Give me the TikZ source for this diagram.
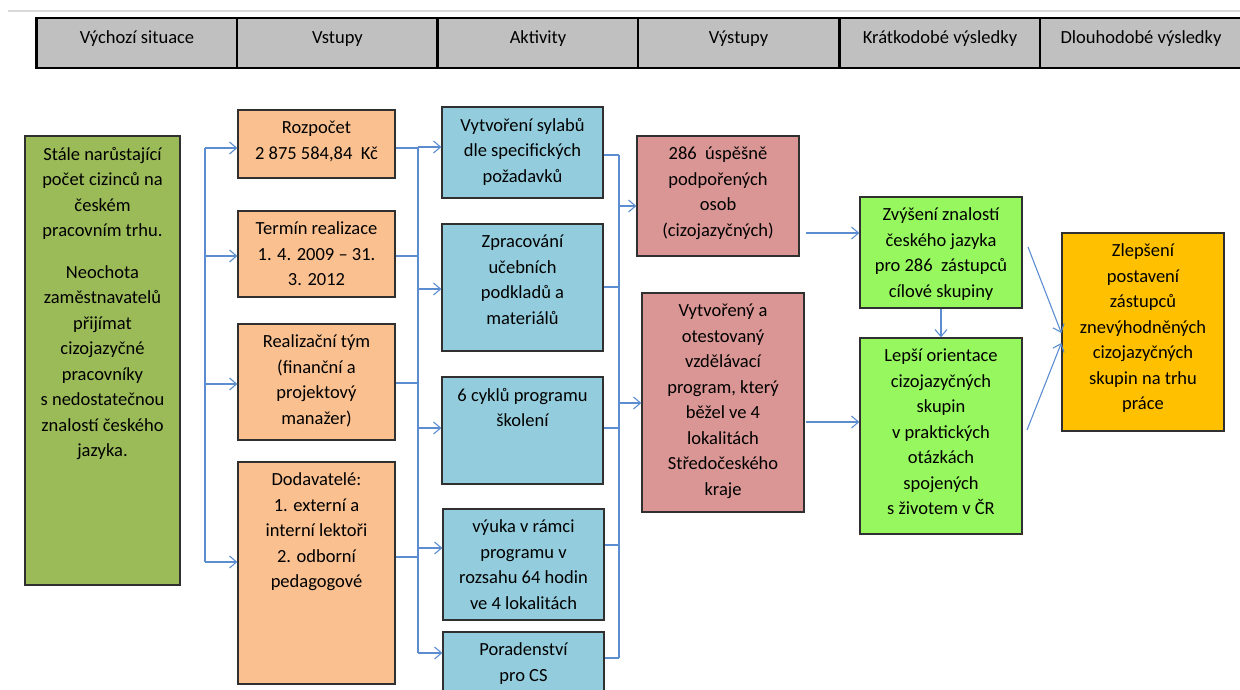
\documentclass[tikz,border=0pt]{standalone}
\usepackage{fontspec}
\setmainfont{Carlito}
\usetikzlibrary{arrows.meta}
\definecolor{hdrgray}{HTML}{C0C0C0}
\definecolor{sitgreen}{HTML}{9BBB59}
\definecolor{inorange}{HTML}{FAC090}
\definecolor{actblue}{HTML}{93CDDD}
\definecolor{outred}{HTML}{D99694}
\definecolor{resgreen}{HTML}{96F85E}
\definecolor{resyellow}{HTML}{FFC000}
\definecolor{conblue}{HTML}{5B8DD0}
\definecolor{boxline}{HTML}{303030}
\newcommand\boxfont{\fontsize{18.5}{25.5}\selectfont}
\begin{document}
\begin{tikzpicture}[x=1pt,y=-1pt,
  hcell/.style={draw=black,line width=2.6pt,fill=hdrgray,minimum width=201,minimum height=50,inner sep=0pt},
  box/.style={draw=boxline,line width=1.3pt,inner sep=0pt},
  txt/.style={anchor=north,align=center,inner sep=0pt,font=\boxfont,yshift=-11.5pt,
    execute at begin node={\rule{0pt}{15pt}}},
  con/.style={draw=conblue,line width=1.1pt},
  arr/.style={con,-{Straight Barb[length=7pt,width=12pt]}}]
\useasboundingbox (0,0) rectangle (1240,690);
\clip (0,0) rectangle (1240,690);
\draw [line width=2pt,color=black!15] (8,11)-- (1240,11);
% header row
\node[hcell] (h1) at (137,43) {};
\node[hcell] (h2) at (337.5,43) {};
\node[hcell] (h3) at (538,43) {};
\node[hcell] (h4) at (738.5,43) {};
\node[hcell] (h5) at (940,43) {};
\node[hcell,minimum width=210] (h6) at (1145,43) {};
\node[txt] (h1t) at (h1.north) {Výchozí situace};
\node[txt] (h2t) at (h2.north) {Vstupy};
\node[txt] (h3t) at (h3.north) {Aktivity};
\node[txt] (h4t) at (h4.north) {Výstupy};
\node[txt] (h5t) at (h5.north) {Krátkodobé výsledky};
\node[txt,xshift=-4pt] (h6t) at (h6.north) {Dlouhodobé výsledky};
% boxes
\node[box,fill=sitgreen,minimum width=155,minimum height=449] (sit) at (102.5,360.5) {};
\node[box,fill=inorange,minimum width=157,minimum height=68] (rozp) at (316.5,144) {};
\node[box,fill=inorange,minimum width=157,minimum height=86] (term) at (316.5,254) {};
\node[box,fill=inorange,minimum width=157,minimum height=116] (tym) at (316.5,382) {};
\node[box,fill=inorange,minimum width=157,minimum height=222] (dod) at (316.5,573) {};
\node[box,fill=actblue,minimum width=161,minimum height=91] (syl) at (522.5,152.5) {};
\node[box,fill=actblue,minimum width=161,minimum height=127] (mat) at (522.5,287.5) {};
\node[box,fill=actblue,minimum width=161,minimum height=107] (cykl) at (522.5,430.5) {};
\node[box,fill=actblue,minimum width=161,minimum height=111] (vyuka) at (523.5,564.5) {};
\node[box,fill=actblue,minimum width=161,minimum height=88] (porad) at (523.5,676) {};
\node[box,fill=outred,minimum width=162,minimum height=120] (osob) at (718,196) {};
\node[box,fill=outred,minimum width=162,minimum height=219] (prog) at (723,402.5) {};
\node[box,fill=resgreen,minimum width=162,minimum height=111] (znal) at (941,252.5) {};
\node[box,fill=resgreen,minimum width=162,minimum height=196] (orie) at (941,436) {};
\node[box,fill=resyellow,minimum width=162,minimum height=198] (post) at (1143,332) {};
% texts
\node[txt] (sitt) at (sit.north) {Stále narůstající\\počet cizinců na\\českém\\pracovním trhu.\\[16pt]Neochota\\zaměstnavatelů\\přijímat\\cizojazyčné\\pracovníky\\s~nedostatečnou\\znalostí českého\\jazyka.};
\node[txt] (rozpt) at (rozp.north) {Rozpočet\\2 875 584,84~ Kč};
\node[txt] (termt) at (term.north) {Termín realizace\\1. 4. 2009 -- 31.\\3. 2012};
\node[txt] (tymt) at (tym.north) {Realizační tým\\(finanční a\\projektový\\manažer)};
\node[txt] (dodt) at (dod.north) {Dodavatelé:\\1. externí a\\interní lektoři\\2. odborní\\pedagogové};
\node[txt] (sylt) at (syl.north) {Vytvoření sylabů\\dle specifických\\požadavků};
\node[txt] (matt) at (mat.north) {Zpracování\\učebních\\podkladů a\\materiálů};
\node[txt] (cyklt) at (cykl.north) {6 cyklů programu\\školení};
\node[txt] (vyukat) at (vyuka.north) {výuka v rámci\\programu v\\rozsahu 64 hodin\\ve 4 lokalitách};
\node[txt] (poradt) at (porad.north) {Poradenství\\pro CS};
\node[txt] (osobt) at (osob.north) {286~ úspěšně\\podpořených\\osob\\(cizojazyčných)};
\node[txt] (progt) at (prog.north) {Vytvořený a\\otestovaný\\vzdělávací\\program, který\\běžel ve 4\\lokalitách\\Středočeského\\kraje};
\node[txt] (znalt) at (znal.north) {Zvýšení znalostí\\českého jazyka\\pro 286~ zástupců\\cílové skupiny};
\node[txt] (oriet) at (orie.north) {Lepší orientace\\cizojazyčných\\skupin\\v praktických\\otázkách\\spojených\\s životem v ČR};
\node[txt] (postt) at (post.north) {Zlepšení\\postavení\\zástupců\\znevýhodněných\\cizojazyčných\\skupin na trhu\\práce};
% bus: situation -> inputs
\coordinate (a1) at (205,148);
\coordinate (a2) at (205,256);
\coordinate (a3) at (205,384);
\coordinate (a4) at (205,562);
\draw[con] (a1) -- (a4);
\foreach \c/\n in {a1/rozp,a2/term,a3/tym,a4/dod}
  \draw[arr] (\c) -- (\c -| \n.west);
% bus: inputs -> activities
\coordinate (b1) at (418,148);
\coordinate (b2) at (418,256);
\coordinate (b3) at (418,383);
\coordinate (b4) at (418,557);
\coordinate (b5) at (418,653);
\draw[con] (b1) -- (b5);
\foreach \c/\n in {b1/rozp,b2/term,b3/tym,b4/dod}
  \draw[con] (\c -| \n.east) -- (\c);
\coordinate (c1) at (418,147);
\coordinate (c2) at (418,289);
\coordinate (c3) at (418,428);
\coordinate (c4) at (418,548);
\coordinate (c5) at (418,653);
\foreach \c/\n in {c1/syl,c2/mat,c3/cykl,c4/vyuka,c5/porad}
  \draw[arr] (\c) -- (\c -| \n.west);
% bus: activities -> outputs
\coordinate (d1) at (619,155);
\coordinate (d2) at (619,287);
\coordinate (d3) at (619,428);
\coordinate (d4) at (619,545);
\coordinate (d5) at (619,658);
\draw[con] (d1) -- (d5);
\foreach \c/\n in {d1/syl,d2/mat,d3/cykl,d4/vyuka,d5/porad}
  \draw[con] (\c -| \n.east) -- (\c);
\coordinate (e1) at (619,206);
\coordinate (e2) at (619,403);
\draw[arr] (e1) -- (e1 -| osob.west);
\draw[arr] (e2) -- (e2 -| prog.west);
% outputs -> results
\coordinate (f1) at (806,233);
\coordinate (f2) at (806,422);
\draw[arr] (f1) -- (f1 -| znal.west);
\draw[arr] (f2) -- (f2 -| orie.west);
\draw[arr] (znal.south) -- (orie.north);
\coordinate (g1) at (1028,247);
\coordinate (g2) at (1027,430);
\draw[arr] (g1) -- (post.west |- 0,333);
\draw[arr] (g2) -- (post.west |- 0,343);
\end{tikzpicture}
\end{document}
